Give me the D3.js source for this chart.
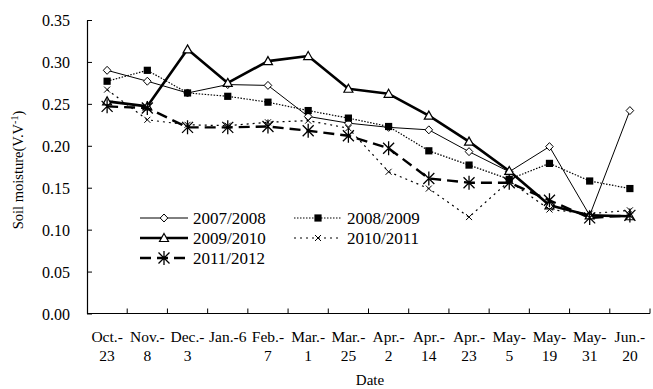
<!DOCTYPE html>
<html><head><meta charset="utf-8">
<script src="https://cdn.jsdelivr.net/npm/d3@7"></script>
<style>
body{margin:0;background:#fff}
svg text{font-family:"Liberation Serif","Times New Roman",serif;fill:#000}
</style></head>
<body><svg id="c" width="653" height="389"></svg>
<script>
const categories = ["Oct.-23","Nov.-8","Dec.-3","Jan.-6","Feb.-7","Mar.-1","Mar.-25","Apr.-2","Apr.-14","Apr.-23","May-5","May-19","May-31","Jun.-20"];
const labelLine1 = ["Oct.-","Nov.-","Dec.-","Jan.-6","Feb.-","Mar.-","Mar.-","Apr.-","Apr.-","Apr.-","May-","May-","May-","Jun.-"];
const labelLine2 = ["23","8","3","","7","1","25","2","14","23","5","19","31","20"];
const yTicks = [0,0.05,0.10,0.15,0.20,0.25,0.30,0.35];

const s2007 = [0.290,0.277,0.263,0.273,0.272,0.235,0.227,0.222,0.219,0.193,0.169,0.199,0.117,0.242];
const s2008 = [0.277,0.290,0.263,0.259,0.252,0.242,0.233,0.223,0.194,0.177,0.160,0.179,0.158,0.149];
const s2009 = [0.253,0.247,0.315,0.275,0.301,0.307,0.268,0.262,0.236,0.205,0.170,0.129,0.117,0.116];
const s2010 = [0.267,0.231,0.225,0.224,0.228,0.230,0.221,0.169,0.149,0.115,0.158,0.124,0.119,0.123];
const s2011 = [0.247,0.245,0.222,0.222,0.223,0.218,0.212,0.197,0.161,0.156,0.156,0.135,0.114,0.117];
const seriesNames = ["2007/2008","2008/2009","2009/2010","2010/2011","2011/2012"];

const svg = d3.select("#c");
const x = d3.scaleBand().domain(categories).range([87,650]).padding(0);
const y = d3.scaleLinear().domain([0,0.35]).range([313.5,20]);

// y axis
const gy = svg.append("g").attr("transform","translate(87,0)")
  .call(d3.axisLeft(y).tickValues(yTicks).tickFormat(d3.format(".2f")).tickSizeInner(-5).tickSizeOuter(0).tickPadding(17));
gy.select(".domain").attr("stroke","#000").attr("stroke-width",1.2);
gy.selectAll(".tick line").attr("stroke","#000");
gy.selectAll("text").style("font-size","16px").attr("fill","#000").attr("dy","0.35em");

// x axis
const gx = svg.append("g");
gx.append("line").attr("x1",87).attr("x2",650).attr("y1",y(0)).attr("y2",y(0)).attr("stroke","#000").attr("stroke-width",1.2);
categories.forEach((c,i)=>{
  const bx = x(c)+x.bandwidth();
  gx.append("line").attr("x1",bx).attr("x2",bx).attr("y1",y(0)).attr("y2",y(0)-5).attr("stroke","#000");
  const cx = x(c)+x.bandwidth()/2;
  const t = gx.append("text").attr("text-anchor","middle").style("font-size","15.5px");
  t.append("tspan").attr("x",cx).attr("y",342).text(labelLine1[i]);
  if(labelLine2[i]) t.append("tspan").attr("x",cx).attr("y",361).text(labelLine2[i]);
});
svg.append("text").attr("x",370).attr("y",385).attr("text-anchor","middle").style("font-size","15px").text("Date");
const yl = svg.append("text").attr("transform","translate(23,170) rotate(-90)").attr("text-anchor","middle").style("font-size","14.5px");
yl.append("tspan").text("Soil moisture(V.V");
yl.append("tspan").attr("dy","-5").style("font-size","10px").text("-1");
yl.append("tspan").attr("dy","5").text(")");

const cx = (d,i)=> x(categories[i]) + x.bandwidth()/2;
const line = d3.line().x((d,i)=>cx(d,i)).y(d=>y(d));

const styles = [
  {data:s2007, w:1, dash:null, marker:"diamond"},
  {data:s2008, w:1.2, dash:"1.5,1.5", marker:"square"},
  {data:s2009, w:2.6, dash:null, marker:"triangle"},
  {data:s2010, w:1.2, dash:"2,4", marker:"x"},
  {data:s2011, w:2.4, dash:"11,6", marker:"star"}
];

function drawMarker(g, type, px, py){
  if(type==="diamond"){
    g.append("path").attr("d",`M${px},${py-4}L${px+3.8},${py}L${px},${py+4}L${px-3.8},${py}Z`).attr("fill","#fff").attr("stroke","#000").attr("stroke-width",1);
  } else if(type==="square"){
    g.append("rect").attr("x",px-3.6).attr("y",py-3.6).attr("width",7.2).attr("height",7.2).attr("fill","#000");
  } else if(type==="triangle"){
    g.append("path").attr("d",`M${px},${py-4.5}L${px+4.5},${py+3.5}L${px-4.5},${py+3.5}Z`).attr("fill","#fff").attr("stroke","#000").attr("stroke-width",1.2);
  } else if(type==="x"){
    g.append("path").attr("d",`M${px-3},${py-3}L${px+3},${py+3}M${px-3},${py+3}L${px+3},${py-3}`).attr("stroke","#000").attr("stroke-width",1);
  } else if(type==="star"){
    g.append("path").attr("d",`M${px-5.5},${py-5.5}L${px+5.5},${py+5.5}M${px-5.5},${py+5.5}L${px+5.5},${py-5.5}M${px},${py-7}L${px},${py+7}`).attr("stroke","#000").attr("stroke-width",1.3);
  }
}

styles.forEach(s=>{
  const g = svg.append("g");
  g.append("path").datum(s.data).attr("d",line).attr("fill","none").attr("stroke","#000")
    .attr("stroke-width",s.w).attr("stroke-dasharray",s.dash).attr("stroke-linejoin","round");
  s.data.forEach((v,i)=>drawMarker(g,s.marker,cx(v,i),y(v)));
});

// legend
const legPos = [[140,218],[294,218],[140,238],[294,238],[140,258]];
styles.forEach((s,i)=>{
  const [lx,ly] = legPos[i];
  const g = svg.append("g");
  g.append("rect").attr("x",lx-4).attr("y",ly-9).attr("width",210).attr("height",0);
  g.append("line").attr("x1",lx).attr("x2",lx+48).attr("y1",ly).attr("y2",ly).attr("stroke","#000")
    .attr("stroke-width",s.w).attr("stroke-dasharray",s.dash);
  drawMarker(g,s.marker,lx+24,ly);
  g.append("text").attr("x",lx+53).attr("y",ly+6).style("font-size","17px").text(seriesNames[i]);
});
</script></body></html>
